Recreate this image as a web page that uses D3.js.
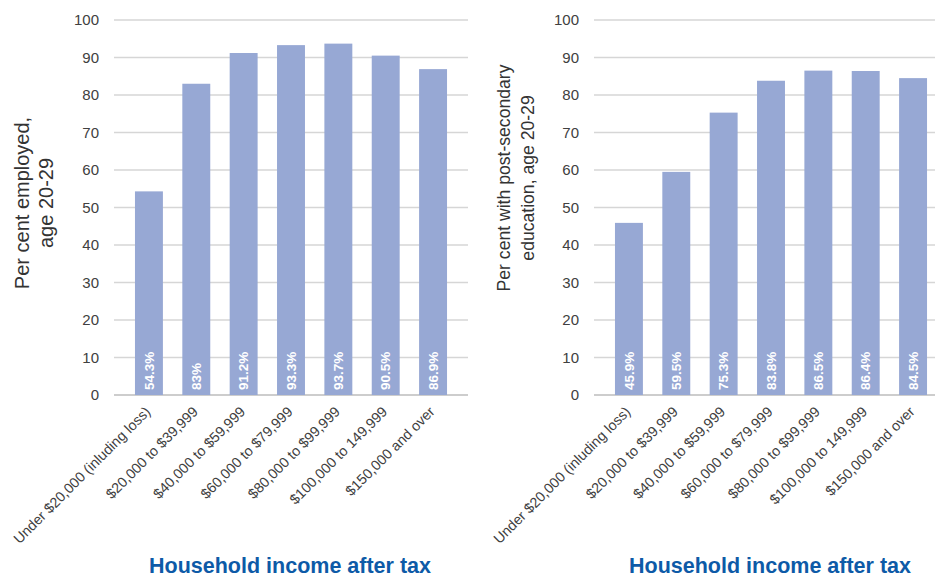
<!DOCTYPE html>
<html>
<head>
<meta charset="utf-8">
<script src="https://cdn.jsdelivr.net/npm/d3@7"></script>
<style>
  body { margin: 0; background: #fff; }
  text { font-family: "Liberation Sans", Arial, sans-serif; }
</style>
</head>
<body>
<div id="chart"></div>
<script>
// Data
const incomeGroups = [
  "Under $20,000 (inluding loss)",
  "$20,000 to $39,999",
  "$40,000 to $59,999",
  "$60,000 to $79,999",
  "$80,000 to $99,999",
  "$100,000 to 149,999",
  "$150,000 and over"
];
const employedPct = [54.3, 83, 91.2, 93.3, 93.7, 90.5, 86.9];
const postSecondaryPct = [45.9, 59.5, 75.3, 83.8, 86.5, 86.4, 84.5];
const yTicks = [0, 10, 20, 30, 40, 50, 60, 70, 80, 90, 100];

const width = 935, height = 578;

const svg = d3.select("#chart")
  .append("svg")
  .attr("width", width)
  .attr("height", height);

// draw one panel
function panel(offsetX, values, titleLines, titleCenterY, titleSize, lineGap) {
  const g = svg.append("g").attr("transform", `translate(${offsetX},0)`);

  const gridLeft = 114, gridRight = offsetX === 0 ? 468 : 455;

  const y = d3.scaleLinear().domain([0, 100]).range([395, 20]);
  const x = d3.scaleBand()
    .domain(incomeGroups)
    .range([125.5, 456.5])
    .paddingInner(0.41)
    .paddingOuter(0.2);

  // gridlines
  g.selectAll("line.grid")
    .data(yTicks)
    .join("line")
    .attr("class", "grid")
    .attr("x1", gridLeft)
    .attr("x2", gridRight)
    .attr("y1", d => y(d))
    .attr("y2", d => y(d))
    .attr("stroke", d => d === 0 ? "#bdbdbd" : "#d6d6d6")
    .attr("stroke-width", 1.3);

  // y tick labels
  g.selectAll("text.ytick")
    .data(yTicks)
    .join("text")
    .attr("class", "ytick")
    .attr("x", 99)
    .attr("y", d => y(d))
    .attr("dy", "0.35em")
    .attr("text-anchor", "end")
    .style("font-size", "15px")
    .style("fill", "#404040")
    .text(d => d);

  // bars
  g.selectAll("rect.bar")
    .data(values)
    .join("rect")
    .attr("class", "bar")
    .attr("x", (d, i) => x(incomeGroups[i]))
    .attr("width", x.bandwidth())
    .attr("y", d => y(d))
    .attr("height", d => y(0) - y(d))
    .attr("fill", "#97a8d4");

  // value labels inside bars
  g.selectAll("text.val")
    .data(values)
    .join("text")
    .attr("class", "val")
    .attr("transform", (d, i) =>
      `translate(${x(incomeGroups[i]) + x.bandwidth() / 2},${y(0) - 5}) rotate(-90)`)
    .attr("dy", "0.35em")
    .attr("text-anchor", "start")
    .style("font-size", "13.5px")
    .style("font-weight", "bold")
    .style("fill", "#fff")
    .text(d => d + "%");

  // x tick labels
  g.selectAll("text.xtick")
    .data(incomeGroups)
    .join("text")
    .attr("class", "xtick")
    .attr("transform", d =>
      `translate(${x(d) + x.bandwidth() / 2 - 1},${y(0) + 14}) rotate(-45)`)
    .attr("text-anchor", "end")
    .attr("dy", "0.35em")
    .style("font-size", "14.3px")
    .style("fill", "#404040")
    .text(d => d);

  // y axis title
  const t = g.append("text")
    .attr("transform", `translate(35,${titleCenterY}) rotate(-90)`)
    .attr("text-anchor", "middle")
    .style("font-size", titleSize + "px")
    .style("fill", "#333");
  titleLines.forEach((line, i) => {
    t.append("tspan")
      .attr("x", 0)
      .attr("dy", i === 0 ? "-0.3em" : lineGap + "em")
      .text(line);
  });

  // x axis title
  g.append("text")
    .attr("x", 290)
    .attr("y", 573)
    .attr("text-anchor", "middle")
    .style("font-size", "21.5px")
    .style("font-weight", "bold")
    .style("fill", "#0d5aa7")
    .text("Household income after tax");
}

panel(0, employedPct, ["Per cent employed,", "age 20-29"], 203, 20, 1.2);
panel(480, postSecondaryPct, ["Per cent with post-secondary", "education, age 20-29"], 178, 17.6, 1.38);
</script>
</body>
</html>
